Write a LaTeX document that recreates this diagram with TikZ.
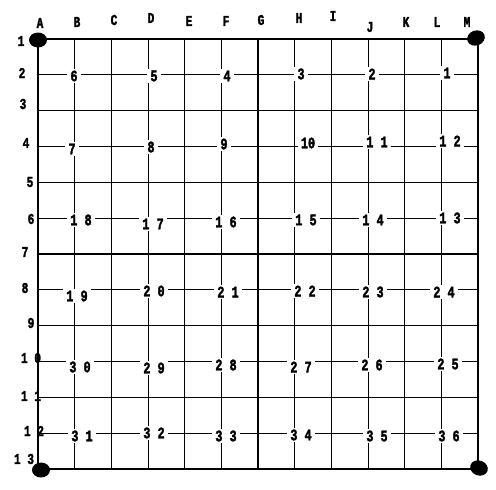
\documentclass[tikz,border=0pt]{standalone}
\usepackage{fontspec}
\newfontfamily\typew[FakeStretch=0.74,FakeBold=2]{Liberation Mono}
\usetikzlibrary{shapes.geometric}
\begin{document}
\begin{tikzpicture}[x=1pt,y=-1pt,
  major/.style={line width=1.4pt, black},
  minor/.style={line width=0.9pt, black},
  lbl/.style={font=\typew\bfseries\fontsize{16}{16}\selectfont, fill=white, inner xsep=3pt, inner ysep=2pt},
  head/.style={font=\typew\bfseries\fontsize{15}{15}\selectfont, inner sep=0pt},
  corner/.style={ellipse, fill=black, minimum width=18pt, minimum height=15pt, inner sep=0pt}]
\useasboundingbox (0,0) rectangle (496,490);
% grid coordinates
\foreach \i in {0,...,12}{
  \foreach \j in {0,...,12}{
    \coordinate (g-\i-\j) at ({38+36.667*\i},{39+35.833*\j});
  }
}
% minor (even) lines
\foreach \k in {1,3,5,7,9,11}{
  \draw[minor] (g-\k-0) -- (g-\k-12);
  \draw[minor] (g-0-\k) -- (g-12-\k);
}
% numbered labels
\foreach \x/\y/\t [count=\n] in {
  74/76/6, 154/76/5, 227/76/4, 301/74/3, 372/74/2, 447/73/1,
  72/149/7, 151/147/8, 224/144/9, 308/143/10, 377/142/1~1, 450/141/1~2,
  81/220/1~8, 153/224/1~7, 226/222/1~6, 306/220/1~5, 373/220/1~4, 450/218/1~3,
  77/296/1~9, 154/291/2~0, 228/292/2~1, 305/291/2~2, 373/292/2~3, 444/292/2~4,
  80/367/3~0, 154/368/2~9, 226/365/2~8, 301/367/2~7, 372/365/2~6, 448/364/2~5,
  82/436/3~1, 154/433/3~2, 226/436/3~3, 301/435/3~4, 377/436/3~5, 449/436/3~6}{
  \node[lbl] (p\n) at (\x,\y) {\t};
}
% major (odd) lines
\foreach \k in {0,2,4,6,8,10,12}{
  \draw[major] (g-\k-0) -- (g-\k-12);
  \draw[major] (g-0-\k) -- (g-12-\k);
}
% column headers
\foreach \x/\y/\t in {40/23/A, 77/22/B, 114/20/C, 151/18/D, 189/21/E, 226/21/F,
  261/20/G, 299/18/H, 333/16/I, 370/27/J, 406/22/K, 437/22/L, 467/22/M}{
  \node[head] (c\t) at (\x,\y) {\t};
}
% row headers
\foreach \x/\y/\t [count=\n] in {21/41/1, 22/73/2, 23/104/3, 26/143/4, 30/182/5, 31/219/6,
  25/252/7, 25/288/8, 31/323/9, 31/358/1~0, 31/396/1~1, 34/431/1~2, 24/459/1~3}{
  \node[head] (r\n) at (\x,\y) {\t};
}
% corner dots
\node[corner] (dA1) at (38,40) {};
\node[corner, rotate=20] (dM1) at (476,38) {};
\node[corner] (dA13) at (41,470) {};
\node[corner, rotate=-20] (dM13) at (479,468) {};
\end{tikzpicture}
\end{document}
